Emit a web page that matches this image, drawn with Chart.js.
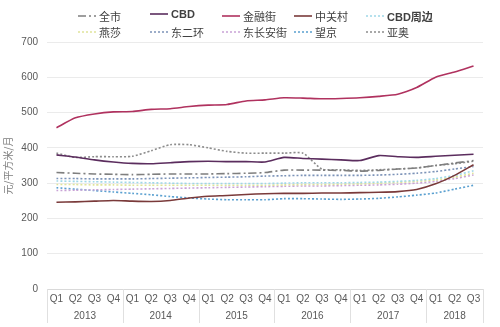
<!DOCTYPE html>
<html>
<head>
<meta charset="utf-8">
<script src="https://cdn.jsdelivr.net/npm/chart.js@4"></script>
<style>
  body { margin: 0; background: #fff; }
  #wrap { position: relative; width: 500px; height: 327px; }
  #legend { position: absolute; top: 0; left: 0; width: 500px; height: 40px; }
  .item { position: absolute; display: flex; align-items: center; font: 11px "Liberation Sans", "Noto Sans CJK SC", sans-serif; color: #404040; white-space: nowrap; }
  .item svg { margin-right: 3px; }
</style>
</head>
<body>
<div id="wrap">
  <canvas id="chart" width="500" height="327"></canvas>
  <div id="legend"></div>
</div>
<script>
// Quarters, 2013 Q1 - 2018 Q3
const quarters = ['Q1','Q2','Q3','Q4','Q1','Q2','Q3','Q4','Q1','Q2','Q3','Q4',
                  'Q1','Q2','Q3','Q4','Q1','Q2','Q3','Q4','Q1','Q2','Q3'];
const years = ['2013', '2014', '2015', '2016', '2017', '2018'];
const yearSizes = [4, 4, 4, 4, 4, 3];
const yTicks = [0, 100, 200, 300, 400, 500, 600, 700];

// rent, 元/平方米/月
const quanshi = [330,328,326,325,324,325,326,326,326,327,328,330,337,337,337,336,334,336,340,343,350,357,364];
const cbd = [380,374,366,360,356,355,358,361,362,361,361,360,373,370,368,366,364,378,375,373,376,379,382];
const jinrongjie = [457,485,496,502,503,509,511,517,521,523,533,536,542,541,539,540,542,546,552,571,600,615,632];
const zhongguancun = [246,247,249,251,249,248,251,258,263,265,268,270,271,271,272,272,273,274,276,282,298,322,352];
const cbdZhoubian = [306,305,304,303,302,301,300,299,299,299,299,299,300,301,301,301,302,303,305,308,313,322,335];
const yansha = [296,296,295,295,294,294,294,294,294,294,294,294,295,296,296,297,298,300,302,305,309,317,328];
const dongerhuan = [313,313,312,312,312,313,314,315,316,317,318,320,321,322,322,322,322,323,325,328,333,340,347];
const dongchanganjie = [279,280,281,282,283,284,285,286,287,288,289,290,291,292,292,293,294,295,297,300,305,313,323];
const wangjing = [287,283,279,275,271,267,262,258,255,253,253,253,256,256,255,254,255,257,261,266,272,283,294];
const yaao = [385,373,375,375,376,392,409,409,400,390,385,385,385,385,340,338,336,338,340,343,350,355,362];

const dotted = [2, 2];

function series(label, data, color, dash) {
  return {
    label: label,
    data: data,
    borderColor: color,
    backgroundColor: color,
    borderWidth: 1.6,
    borderDash: dash,
    pointRadius: 0,
    tension: 0.2,
    fill: false
  };
}

const datasets = [
  series('全市', quanshi, '#7f7f7f', [8, 3, 2, 3]),
  series('CBD', cbd, '#5b2d5e', []),
  series('金融街', jinrongjie, '#b0325f', []),
  series('中关村', zhongguancun, '#7a3a3a', []),
  series('CBD周边', cbdZhoubian, '#9fd7e8', dotted),
  series('燕莎', yansha, '#dfe49a', dotted),
  series('东二环', dongerhuan, '#7c93b8', dotted),
  series('东长安街', dongchanganjie, '#c9a3d6', dotted),
  series('望京', wangjing, '#5aa0d0', dotted),
  series('亚奥', yaao, '#8c8c8c', dotted)
];

// draw year labels and separators under the quarter labels
const yearGroups = {
  id: 'yearGroups',
  afterDraw(chart) {
    const ctx = chart.ctx;
    const x = chart.scales.x;
    const bottom = chart.chartArea.bottom;
    const half = (x.getPixelForValue(1) - x.getPixelForValue(0)) / 2;
    ctx.save();
    ctx.strokeStyle = '#e0e0e0';
    ctx.lineWidth = 1;
    ctx.fillStyle = '#595959';
    ctx.font = '10px "Liberation Sans", Arial, sans-serif';
    ctx.textAlign = 'center';
    ctx.textBaseline = 'middle';
    let start = 0;
    yearSizes.forEach((n, k) => {
      const left = x.getPixelForValue(start) - half;
      const right = x.getPixelForValue(start + n - 1) + half;
      ctx.fillText(years[k], (left + right) / 2, bottom + 27);
      [left, right].forEach(px => {
        ctx.beginPath();
        ctx.moveTo(Math.round(px) + 0.5, bottom);
        ctx.lineTo(Math.round(px) + 0.5, bottom + 34);
        ctx.stroke();
      });
      start += n;
    });
    ctx.restore();
  }
};

const chart = new Chart(document.getElementById('chart').getContext('2d'), {
  type: 'line',
  data: { labels: quarters, datasets: datasets },
  options: {
    responsive: false,
    animation: false,
    layout: { padding: { top: 42, right: 17, bottom: 0, left: 2 } },
    plugins: {
      legend: { display: false },
      tooltip: { enabled: false }
    },
    scales: {
      x: {
        offset: true,
        grid: { display: false, drawTicks: false },
        border: { color: '#d9d9d9' },
        ticks: {
          color: '#595959',
          font: { family: '"Liberation Sans", Arial, sans-serif', size: 10 },
          padding: 4,
          autoSkip: false,
          maxRotation: 0
        },
        afterFit: s => { s.height = 38; }
      },
      y: {
        min: 0,
        max: 700,
        afterBuildTicks: s => { s.ticks = yTicks.map(v => ({ value: v })); },
        grid: { color: '#ebebeb', drawTicks: false },
        border: { display: false },
        ticks: {
          color: '#595959',
          font: { family: '"Liberation Sans", Arial, sans-serif', size: 10 },
          padding: 9
        },
        title: {
          display: true,
          text: '元/平方米/月',
          color: '#7f7f7f',
          font: { family: '"Noto Sans CJK SC", sans-serif', size: 10 },
          padding: 0
        },
        afterFit: s => { s.width = 45; }
      }
    }
  },
  plugins: [yearGroups]
});

// legend laid out in two rows of five, like the original
const legend = document.getElementById('legend');
datasets.forEach((ds, i) => {
  const col = i % 5;
  const row = Math.floor(i / 5);
  const item = document.createElement('div');
  item.className = 'item';
  item.style.left = (78 + col * 72) + 'px';
  item.style.top = (row === 0 ? 8 : 24) + 'px';
  const dash = ds.borderDash.length ? ds.borderDash.join(',') : 'none';
  item.innerHTML =
    '<svg width="18" height="6"><line x1="0" y1="3" x2="18" y2="3" stroke="' + ds.borderColor +
    '" stroke-width="1.6" stroke-dasharray="' + dash + '"/></svg><span' +
    (ds.label.indexOf('CBD') === 0 ? ' style="font-weight:bold"' : '') + '>' + ds.label + '</span>';
  legend.appendChild(item);
});
</script>
</body>
</html>
